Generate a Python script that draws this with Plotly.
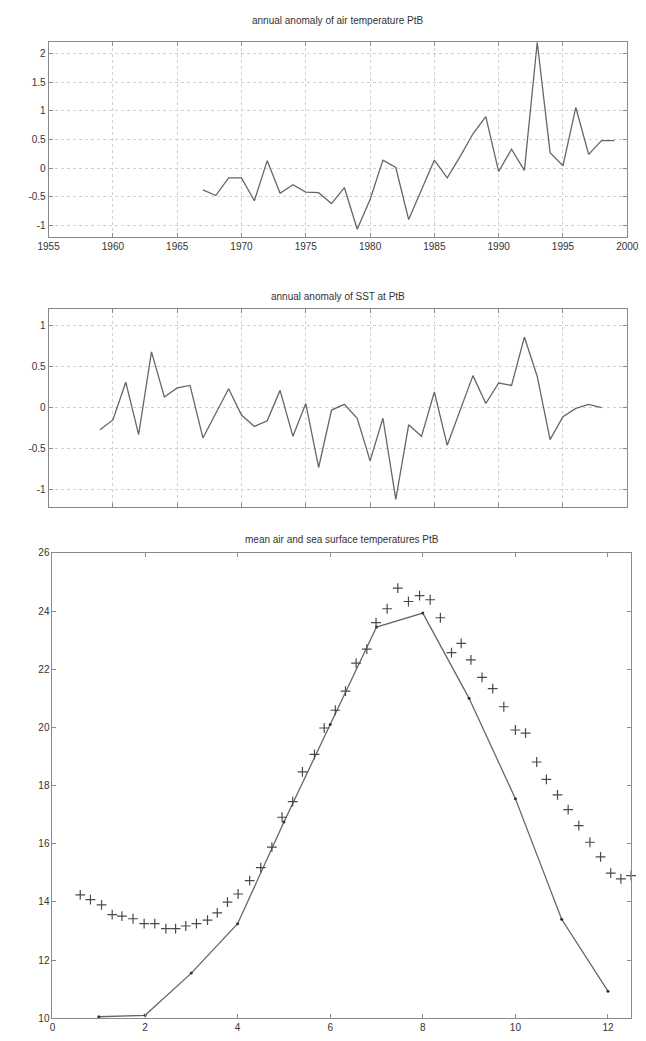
import plotly.graph_objects as go

# ---------------- data ----------------
air_years = [1967, 1968, 1969, 1970, 1971, 1972, 1973, 1974, 1975, 1976, 1977,
             1978, 1979, 1980, 1981, 1982, 1983, 1984, 1985, 1986, 1987, 1988,
             1989, 1990, 1991, 1992, 1993, 1994, 1995, 1996, 1997, 1998, 1999]
air_anom = [-0.38, -0.48, -0.17, -0.17, -0.57, 0.13, -0.44, -0.29, -0.42, -0.43, -0.62,
            -0.34, -1.07, -0.55, 0.14, 0.01, -0.90, -0.38, 0.14, -0.17, 0.20, 0.60,
            0.90, -0.06, 0.33, -0.04, 2.20, 0.27, 0.04, 1.06, 0.24, 0.48, 0.48]

sst_years = [1959, 1960, 1961, 1962, 1963, 1964, 1965, 1966, 1967, 1968, 1969,
             1970, 1971, 1972, 1973, 1974, 1975, 1976, 1977, 1978, 1979, 1980,
             1981, 1982, 1983, 1984, 1985, 1986, 1987, 1988, 1989, 1990, 1991,
             1992, 1993, 1994, 1995, 1996, 1997, 1998]
sst_anom = [-0.27, -0.15, 0.31, -0.33, 0.68, 0.13, 0.24, 0.27, -0.37, -0.06, 0.23,
            -0.09, -0.23, -0.16, 0.21, -0.35, 0.05, -0.73, -0.03, 0.04, -0.13, -0.65,
            -0.13, -1.12, -0.21, -0.35, 0.19, -0.46, -0.04, 0.39, 0.05, 0.30, 0.27,
            0.86, 0.38, -0.39, -0.11, -0.01, 0.04, 0.00]

air_month = [1, 2, 3, 4, 5, 6, 7, 8, 9, 10, 11, 12]
air_mean = [10.05, 10.1, 11.55, 13.25, 16.75, 20.1, 23.45, 23.93, 21.0, 17.55, 13.4, 10.93]

sea_x = [0.60, 0.82, 1.06, 1.29, 1.50, 1.74, 1.98, 2.21, 2.45, 2.66, 2.88, 3.11,
         3.35, 3.56, 3.78, 4.01, 4.26, 4.50, 4.74, 4.96, 5.19, 5.40, 5.66, 5.87,
         6.11, 6.33, 6.56, 6.79, 6.99, 7.23, 7.46, 7.69, 7.93, 8.16, 8.38, 8.62,
         8.83, 9.04, 9.28, 9.51, 9.75, 10.00, 10.22, 10.46, 10.67, 10.91, 11.14,
         11.37, 11.61, 11.84, 12.06, 12.28, 12.50]
sea_t = [14.24, 14.08, 13.90, 13.56, 13.51, 13.42, 13.25, 13.25, 13.08, 13.08, 13.17, 13.25,
         13.37, 13.62, 13.99, 14.27, 14.73, 15.18, 15.88, 16.91, 17.45, 18.47, 19.07, 19.98,
         20.59, 21.25, 22.21, 22.69, 23.60, 24.08, 24.79, 24.33, 24.53, 24.39, 23.77, 22.57,
         22.89, 22.32, 21.72, 21.33, 20.71, 19.91, 19.80, 18.81, 18.21, 17.68, 17.17,
         16.62, 16.05, 15.55, 14.99, 14.79, 14.90]

year_ticks = [1955, 1960, 1965, 1970, 1975, 1980, 1985, 1990, 1995, 2000]
air_yticks = [-1, -0.5, 0, 0.5, 1, 1.5, 2]
air_ytext = ["-1", "-0.5", "0", "0.5", "1", "1.5", "2"]
sst_yticks = [-1, -0.5, 0, 0.5, 1]
sst_ytext = ["-1", "-0.5", "0", "0.5", "1"]
mon_xticks = [0, 2, 4, 6, 8, 10, 12]
mon_yticks = [10, 12, 14, 16, 18, 20, 22, 24, 26]

titles = ["annual anomaly of air temperature PtB",
          "annual anomaly of SST at PtB",
          "mean air and sea surface temperatures PtB"]

# ---------------- figure ----------------
W, H = 646, 1041
LINE = "#666666"
TXT = "#333333"
AX = "#8a8a8a"
GRID = "#d0d0d0"
FONT = dict(family="Liberation Sans, Arial, sans-serif", size=10, color=TXT)

def px(x):
    return x / W

def py(y):
    return 1 - y / H

fig = go.Figure()
fig.add_trace(go.Scatter(x=air_years, y=air_anom, mode="lines",
                         line=dict(color=LINE, width=1.3), xaxis="x", yaxis="y",
                         showlegend=False))
fig.add_trace(go.Scatter(x=sst_years, y=sst_anom, mode="lines",
                         line=dict(color=LINE, width=1.3), xaxis="x2", yaxis="y2",
                         showlegend=False))
fig.add_trace(go.Scatter(x=air_month, y=air_mean, mode="lines+markers",
                         line=dict(color=LINE, width=1.3),
                         marker=dict(size=3, color="#333333"),
                         xaxis="x3", yaxis="y3", showlegend=False))
fig.add_trace(go.Scatter(x=sea_x, y=sea_t, mode="markers",
                         marker=dict(symbol="cross-thin", size=7,
                                     line=dict(color="#4a4a4a", width=1.2)),
                         xaxis="x3", yaxis="y3", showlegend=False, cliponaxis=False))

common = dict(showline=True, linecolor=AX, linewidth=1, mirror="ticks",
              ticks="inside", ticklen=4, tickcolor=AX, zeroline=False,
              tickfont=FONT, ticklabeloverflow="allow")
grid = dict(showgrid=True, gridcolor=GRID, griddash="dot", gridwidth=1)

top_dom_x = [px(39), px(639)]
fig.update_layout(
    width=W, height=H,
    margin=dict(l=0, r=0, t=0, b=0),
    paper_bgcolor="white", plot_bgcolor="white",
    font=FONT,
    xaxis=dict(domain=top_dom_x, anchor="y", range=[1955, 2000],
               tickvals=year_ticks, ticktext=[str(v) for v in year_ticks],
               **common, **grid),
    yaxis=dict(domain=[py(234), py(36.7)], anchor="x", range=[-1.21, 2.2],
               tickvals=air_yticks, ticktext=air_ytext, **common, **grid),
    xaxis2=dict(domain=top_dom_x, anchor="y2", range=[1955, 2000],
                tickvals=year_ticks, showticklabels=False, **common, **grid),
    yaxis2=dict(domain=[py(506.7), py(306.7)], anchor="x2", range=[-1.21, 1.2],
                tickvals=sst_yticks, ticktext=sst_ytext, **common, **grid),
    xaxis3=dict(domain=[px(43), px(643)], anchor="y3", range=[0, 12.5],
                tickvals=mon_xticks, showgrid=False, **common),
    yaxis3=dict(domain=[py(1024), py(553.3)], anchor="x3", range=[10, 26],
                tickvals=mon_yticks, showgrid=False, **common),
)

title_pos = [(339, 15), (339, 294), (343, 540)]
for t, (cx, cy) in zip(titles, title_pos):
    fig.add_annotation(text=t, x=px(cx), y=py(cy), xref="paper", yref="paper",
                       showarrow=False, xanchor="center", yanchor="middle",
                       font=dict(family=FONT["family"], size=10, color=TXT))

fig.write_html("out.html")
